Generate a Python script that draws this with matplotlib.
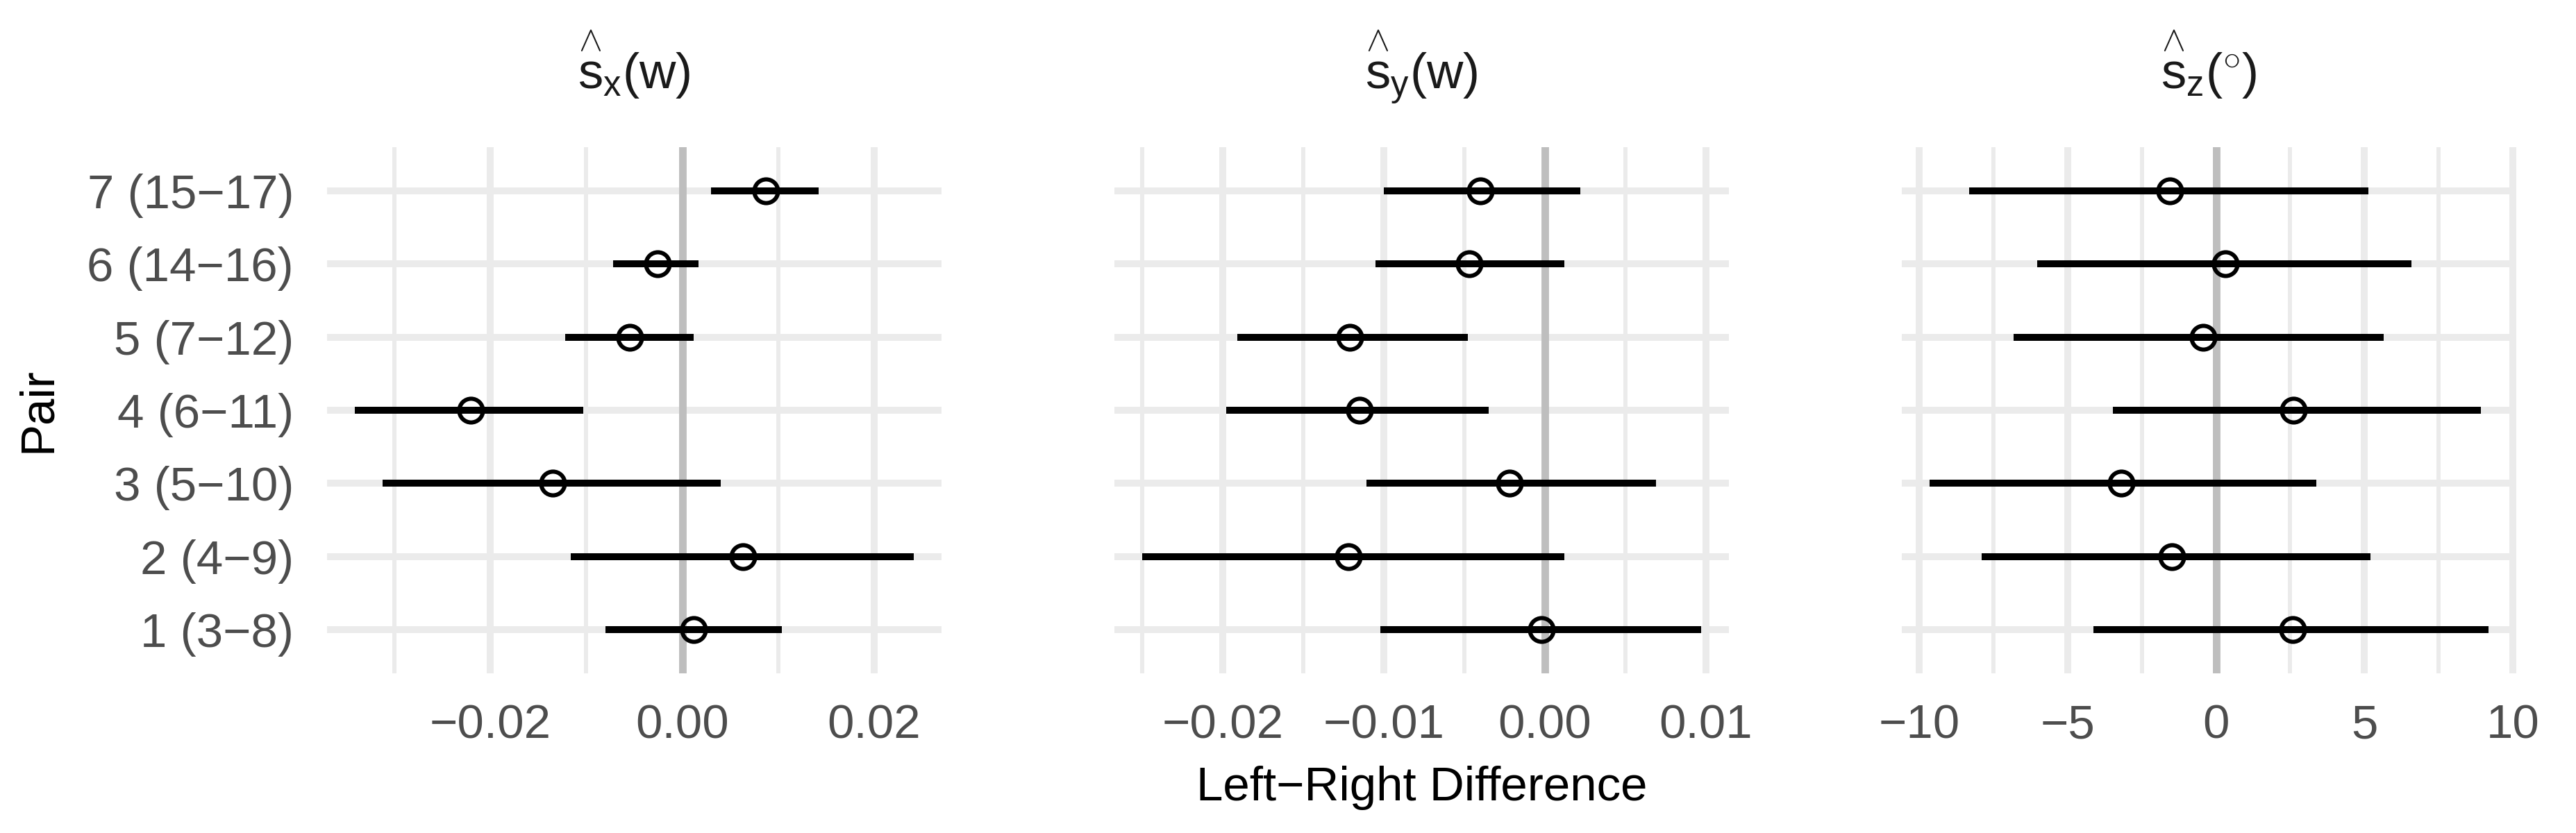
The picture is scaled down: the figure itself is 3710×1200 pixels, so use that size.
import numpy as np
import matplotlib
matplotlib.use('Agg')
import matplotlib.pyplot as plt

plt.rcParams['font.family'] = ['Liberation Sans', 'DejaVu Sans']
plt.rcParams['mathtext.fontset'] = 'custom'
plt.rcParams['mathtext.rm'] = 'Liberation Sans'
plt.rcParams['mathtext.it'] = 'Liberation Sans'
plt.rcParams['mathtext.bf'] = 'Liberation Sans:bold'

# Paare (unten -> oben)
pairs = ['1 (3\u22128)', '2 (4\u22129)', '3 (5\u221210)', '4 (6\u221211)',
         '5 (7\u221212)', '6 (14\u221216)', '7 (15\u221217)']

# s_x(w)
sx_est = [0.0012, 0.0063, -0.0135, -0.0220, -0.0055, -0.0026, 0.0087]
sx_lo = [-0.0080, -0.0116, -0.0312, -0.0341, -0.0122, -0.0072, 0.0030]
sx_hi = [0.0104, 0.0241, 0.0040, -0.0103, 0.0012, 0.0017, 0.0142]

# s_y(w)
sy_est = [-0.0002, -0.0122, -0.0022, -0.0115, -0.0121, -0.0047, -0.0040]
sy_lo = [-0.0102, -0.0250, -0.0111, -0.0198, -0.0191, -0.0105, -0.0100]
sy_hi = [0.0097, 0.0012, 0.0069, -0.0035, -0.0048, 0.0012, 0.0022]

# s_z(grad)
sz_est = [2.58, -1.49, -3.20, 2.61, -0.44, 0.32, -1.55]
sz_lo = [-4.13, -7.90, -9.65, -3.48, -6.82, -6.03, -8.32]
sz_hi = [9.18, 5.21, 3.39, 8.92, 5.65, 6.58, 5.14]

titles = [r'$\overset{\wedge}{s}_{x}(w)$', r'$\overset{\wedge}{s}_{y}(w)$',
          r'$\overset{\wedge}{s}_{z}(^{\circ})$']
major_ticks = [[-0.02, 0.0, 0.02], [-0.02, -0.01, 0.0, 0.01], [-10, -5, 0, 5, 10]]
minor_ticks = [[-0.03, -0.01, 0.01], [-0.025, -0.015, -0.005, 0.005],
               [-7.5, -2.5, 2.5, 7.5]]
tick_fmt = ['{:.2f}', '{:.2f}', '{:.0f}']

W, H = 3710, 1200
fig = plt.figure(figsize=(W / 300, H / 300), dpi=300)

lefts = [471, 1605, 2739]
pw, top, bot = 885, 212, 970
fs = 16.6
y = np.arange(1, len(pairs) + 1)

series = [(sx_est, sx_lo, sx_hi), (sy_est, sy_lo, sy_hi), (sz_est, sz_lo, sz_hi)]
for i, (est, lo, hi) in enumerate(series):
    ax = fig.add_axes([lefts[i] / W, (H - bot) / H, pw / W, (bot - top) / H])
    # ggplot-artige 5% Erweiterung
    xmin, xmax = min(lo), max(hi)
    pad = (xmax - xmin) * 0.05
    ax.set_xlim(xmin - pad, xmax + pad)
    ax.set_ylim(0.4, len(pairs) + 0.6)

    ax.set_xticks(major_ticks[i])
    ax.set_xticks(minor_ticks[i], minor=True)
    ax.set_xticklabels([tick_fmt[i].format(t).replace('-', '\u2212') for t in major_ticks[i]])
    ax.set_yticks(y)
    if i == 0:
        ax.set_yticklabels(pairs)
    else:
        ax.set_yticklabels([])

    ax.grid(which='major', color='#EBEBEB', lw=2.4)
    ax.grid(which='minor', axis='x', color='#EBEBEB', lw=1.44)
    ax.set_axisbelow(True)
    for s in ax.spines.values():
        s.set_visible(False)
    ax.tick_params(which='both', length=0, labelsize=fs, labelcolor='#4D4D4D')
    ax.tick_params(axis='x', pad=10.5)
    ax.tick_params(axis='y', pad=11.5)

    ax.axvline(0, color='#BEBEBE', lw=2.6, zorder=1.5)
    ax.hlines(y, lo, hi, color='black', lw=2.4, zorder=3)
    ax.plot(est, y, 'o', mfc='none', mec='black', mew=1.44, ms=8.2, zorder=4)

    fig.text((lefts[i] + pw / 2) / W, 1 - 128 / H, titles[i], ha='center',
             va='baseline', fontsize=fs * 1.05, color='#1A1A1A')

fig.text((lefts[1] + pw / 2) / W, 1 - 1135 / H, 'Left\u2212Right Difference',
         ha='center', va='center', fontsize=fs, color='black')
fig.text(55 / W, 1 - 591 / H, 'Pair', ha='center', va='center', rotation=90,
         fontsize=fs, color='black')

fig.savefig('out.png', dpi=300, facecolor='white')
